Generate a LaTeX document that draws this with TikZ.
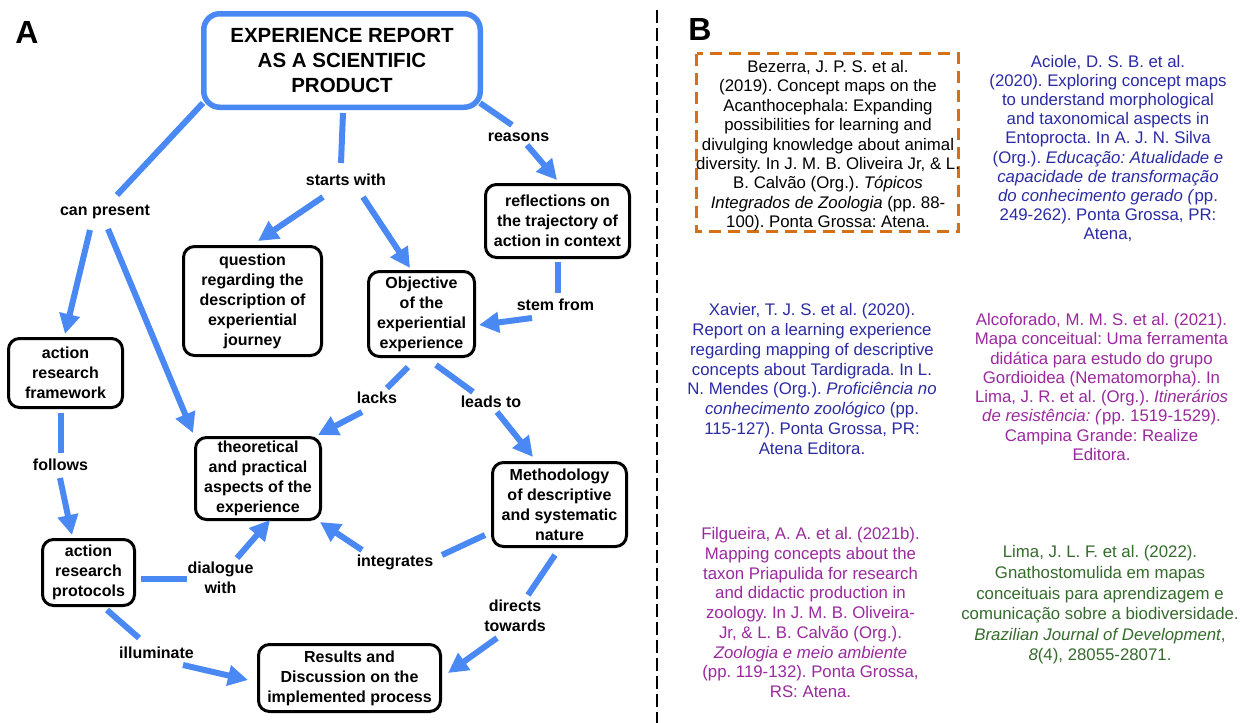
\documentclass[tikz,border=0pt]{standalone}
\usepackage{fontspec}
\setmainfont{Liberation Sans}
\usetikzlibrary{arrows.meta}
\frenchspacing
\definecolor{cmblue}{HTML}{4A89F3}
\definecolor{reforange}{RGB}{214,112,22}
\definecolor{refblue}{HTML}{2B2BA6}
\definecolor{refpurple}{HTML}{9A2A9E}
\definecolor{refgreen}{HTML}{356B2C}
\tikzset{
  conceptbox/.style={draw=black, line width=3pt, rounded corners=11pt, fill=white, align=center,
    inner sep=0pt, font=\fontsize{16}{20}\selectfont\bfseries},
  titlebox/.style={draw=cmblue, line width=5.5pt, rounded corners=16pt, fill=white, align=center,
    inner sep=0pt, font=\fontsize{20.5}{25}\selectfont\bfseries},
  linklabel/.style={align=center, inner sep=0pt, font=\fontsize{16}{20}\selectfont\bfseries},
  link/.style={draw=cmblue, line width=6pt},
  arr/.style={link, -{Triangle[length=20pt,width=20pt]}},
  reftext/.style={align=center, inner sep=0pt},
  panel/.style={inner sep=0pt, font=\fontsize{32}{32}\selectfont\bfseries},
  refbox/.style={draw=reforange, line width=3pt, dash pattern=on 12pt off 7pt},
  separator/.style={draw=black, line width=2pt, dash pattern=on 13pt off 5pt}
}
\begin{document}
\frenchspacing
\begin{tikzpicture}[x=1pt,y=-1pt]
\useasboundingbox[fill=white] (0,0) rectangle (1240,723);

% ---------- Panel A ----------
\node[panel] (labA) at (27,32) {A};

\node[titlebox, minimum width=276.5, minimum height=93.5] (main) at (342,60.5)
  {EXPERIENCE REPORT\\AS A SCIENTIFIC\\PRODUCT};
\node[conceptbox, minimum width=144, minimum height=73] (refl) at (557.5,221)
  {reflections on\\the trajectory of\\action in context};
\node[conceptbox, minimum width=106, minimum height=85] (obj) at (421.5,314)
  {Objective\\of the\\experiential\\experience};
\node[conceptbox, minimum width=138, minimum height=109] (quest) at (252.5,301)
  {question\\regarding the\\description of\\experiential\\journey};
\node[conceptbox, minimum width=114, minimum height=69] (arf) at (65.5,373)
  {action\\research\\framework};
\node[conceptbox, minimum width=125, minimum height=82] (theo) at (258,478.5)
  {theoretical\\and practical\\aspects of the\\experience};
\node[conceptbox, minimum width=134, minimum height=84] (meth) at (559.5,504.5)
  {Methodology\\of descriptive\\and systematic\\nature};
\node[conceptbox, minimum width=92, minimum height=66] (arp) at (88.5,572.5)
  {action\\research\\protocols};
\node[conceptbox, minimum width=182, minimum height=67] (res) at (349.5,678)
  {Results and\\Discussion on the\\implemented process};

\node[linklabel] (canpresent) at (105,212) {can present};
\node[linklabel] (startswith) at (346,180) {starts with};
\node[linklabel] (reasons) at (518.5,137) {reasons};
\node[linklabel] (stemfrom) at (555.5,305) {stem from};
\node[linklabel] (lacks) at (377,398) {lacks};
\node[linklabel] (leadsto) at (491,402) {leads to};
\node[linklabel] (integrates) at (395,562) {integrates};
\node[linklabel] (directs) at (515,615.5) {directs\\towards};
\node[linklabel] (follows) at (60.5,465) {follows};
\node[linklabel] (dialogue) at (220.5,577.5) {dialogue\\with};
\node[linklabel] (illuminate) at (156.5,653) {illuminate};

\draw[link] ([shift={(-139,42.5)}]main.center) -- ([shift={(12,-17)}]canpresent.center);
\draw[arr] ([shift={(-15,18)}]canpresent.center) -- ([shift={(-0.5,-39)}]arf.center);
\draw[arr] ([shift={(3,17)}]canpresent.center) -- ([shift={(-65,-45.5)}]theo.center);
\draw[link] ([shift={(1,52.5)}]main.center) -- ([shift={(-5,-17)}]startswith.center);
\draw[arr] ([shift={(-23,17)}]startswith.center) -- ([shift={(5.5,-60)}]quest.center);
\draw[arr] ([shift={(17,17)}]startswith.center) -- ([shift={(-11.5,-46)}]obj.center);
\draw[link] ([shift={(138,42.5)}]main.center) -- ([shift={(-6.5,-12)}]reasons.center);
\draw[arr] ([shift={(8.5,8)}]reasons.center) -- ([shift={(-0.5,-41)}]refl.center);
\draw[link] ([shift={(0.5,41)}]refl.center) -- ([shift={(2.5,-12)}]stemfrom.center);
\draw[arr] ([shift={(-23.5,13)}]stemfrom.center) -- ([shift={(57.5,11)}]obj.center);
\draw[link] ([shift={(-13.5,53)}]obj.center) -- ([shift={(10,-10)}]lacks.center);
\draw[arr] ([shift={(-15,14)}]lacks.center) -- ([shift={(60,-43.5)}]theo.center);
\draw[link] ([shift={(14.5,51)}]obj.center) -- ([shift={(-18,-10)}]leadsto.center);
\draw[arr] ([shift={(6,10)}]leadsto.center) -- ([shift={(-26.5,-47.5)}]meth.center);
\draw[link] ([shift={(-74.5,30.5)}]meth.center) -- ([shift={(47,-7)}]integrates.center);
\draw[arr] ([shift={(-33,-12)}]integrates.center) -- ([shift={(62,43.5)}]theo.center);
\draw[link] ([shift={(-4.5,50.5)}]meth.center) -- ([shift={(13,-20.5)}]directs.center);
\draw[arr] ([shift={(-18,22.5)}]directs.center) -- ([shift={(98.5,-5)}]res.center);
\draw[link] ([shift={(-4.5,40)}]arf.center) -- ([shift={(0.5,-12)}]follows.center);
\draw[arr] ([shift={(-0.5,13)}]follows.center) -- ([shift={(-16.5,-37.5)}]arp.center);
\draw[link] ([shift={(52.5,6.5)}]arp.center) -- ([shift={(-33.5,1.5)}]dialogue.center);
\draw[arr] ([shift={(16.5,-19.5)}]dialogue.center) -- ([shift={(12,41.5)}]theo.center);
\draw[link] ([shift={(18.5,37.5)}]arp.center) -- ([shift={(-17.5,-15)}]illuminate.center);
\draw[arr] ([shift={(26.5,12)}]illuminate.center) -- ([shift={(-101.5,2)}]res.center);

% ---------- separator ----------
\coordinate (septop) at (657,10);
\coordinate (sepbot) at (657,723);
\draw[separator] (septop) -- (sepbot);

% ---------- Panel B ----------
\node[panel] (labB) at (700,29) {B};

\draw[refbox] (696.5,53.5) rectangle (958.5,231.5);
\node[reftext, font=\fontsize{16.8}{19.4}\selectfont] (bezerra) at (828,145.7)
  {Bezerra, J. P. S. et al.\\
   (2019). Concept maps on the\\
   Acanthocephala: Expanding\\
   possibilities for learning and\\
   divulging knowledge about animal\\
   diversity. In J. M. B. Oliveira Jr, \& L.\\
   B. Calvão (Org.). \textit{Tópicos}\\
   \textit{Integrados de Zoologia} (pp. 88-\\
   100). Ponta Grossa: Atena.};

\node[reftext, text=refblue, font=\fontsize{16.8}{19.1}\selectfont] (aciole) at (1108,148.5)
  {Aciole, D. S. B. et al.\\
   (2020). Exploring concept maps\\
   to understand morphological\\
   and taxonomical aspects in\\
   Entoprocta. In A. J. N. Silva\\
   (Org.). \textit{Educação: Atualidade e}\\
   \textit{capacidade de transformação}\\
   \textit{do conhecimento gerado (}pp.\\
   249-262). Ponta Grossa, PR:\\
   Atena,};

\node[reftext, text=refblue, font=\fontsize{16.8}{19.9}\selectfont] (xavier) at (812,379)
  {Xavier, T. J. S. et al. (2020).\\
   Report on a learning experience\\
   regarding mapping of descriptive\\
   concepts about Tardigrada. In L.\\
   N. Mendes (Org.). \textit{Proficiência no}\\
   \textit{conhecimento zoológico} (pp.\\
   115-127). Ponta Grossa, PR:\\
   Atena Editora.};

\node[reftext, text=refpurple, font=\fontsize{16.8}{19.3}\selectfont] (alcoforado) at (1101.5,387)
  {Alcoforado, M. M. S. et al. (2021).\\
   Mapa conceitual: Uma ferramenta\\
   didática para estudo do grupo\\
   Gordioidea (Nematomorpha). In\\
   Lima, J. R. et al. (Org.). \textit{Itinerários}\\
   \textit{de resistência: (}pp. 1519-1529).\\
   Campina Grande: Realize\\
   Editora.};

\node[reftext, text=refpurple, font=\fontsize{16.8}{19.75}\selectfont] (filgueira) at (810.5,612.5)
  {Filgueira, A. A. et al. (2021b).\\
   Mapping concepts about the\\
   taxon Priapulida for research\\
   and didactic production in\\
   zoology. In J. M. B. Oliveira-\\
   Jr, \& L. B. Calvão (Org.).\\
   \textit{Zoologia e meio ambiente}\\
   (pp. 119-132). Ponta Grossa,\\
   RS: Atena.};

\node[reftext, text=refgreen, font=\fontsize{16.8}{20.6}\selectfont] (lima) at (1100,605)
  {Lima, J. L. F. et al. (2022).\\
   Gnathostomulida em mapas\\
   conceituais para aprendizagem e\\
   comunicação sobre a biodiversidade.\\
   \textit{Brazilian Journal of Development},\\
   \textit{8}(4), 28055-28071.};
\end{tikzpicture}
\end{document}
